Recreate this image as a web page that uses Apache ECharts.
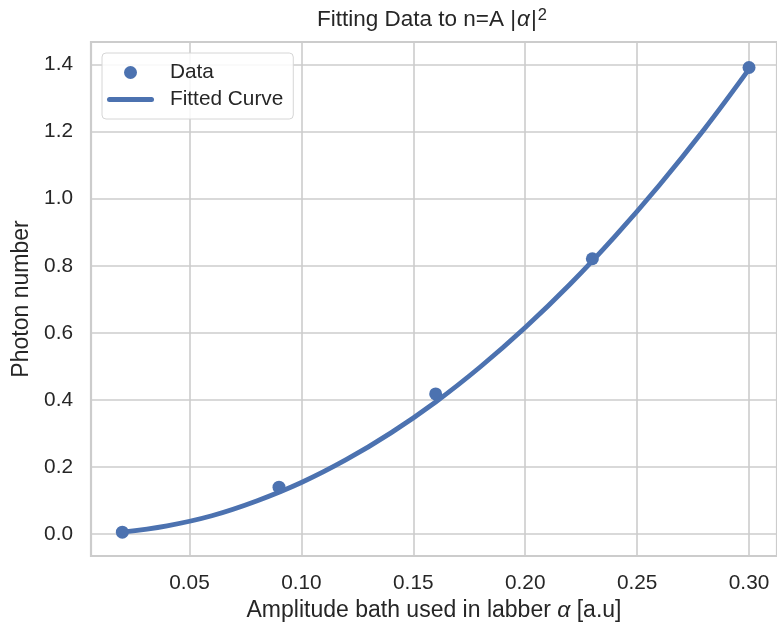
<!DOCTYPE html>
<html>
<head>
<meta charset="utf-8">
<script src="https://cdn.jsdelivr.net/npm/echarts@6/dist/echarts.min.js"></script>
<style>
  html, body { margin: 0; padding: 0; background: #ffffff; }
  #chart { width: 777px; height: 630px; }
</style>
</head>
<body>
<div id="chart"></div>
<script>
// Measured photon numbers at each drive amplitude
var dataAlpha = [0.02, 0.09, 0.16, 0.23, 0.30];
var dataPhotons = [0.006, 0.140, 0.418, 0.821, 1.391];

// Fitted curve n = A|alpha|^2, sampled along the amplitude range
var fitAlpha = [0.02, 0.04, 0.06, 0.08, 0.10, 0.12, 0.14, 0.16, 0.18, 0.20, 0.22, 0.24, 0.26, 0.28, 0.30];
var fitPhotons = [0.006, 0.025, 0.055, 0.099, 0.154, 0.222, 0.302, 0.394, 0.499, 0.616, 0.745, 0.887, 1.041, 1.207, 1.386];

var seriesNames = ['Data', 'Fitted Curve'];
var blue = '#4c72b0';
var ink = '#262626';
var font = '"Liberation Sans", Arial, sans-serif';

function pairs(xs, ys) {
  return xs.map(function (x, i) { return [x, ys[i]]; });
}

var chart = echarts.init(document.getElementById('chart'), null, { renderer: 'canvas' });

chart.setOption({
  backgroundColor: '#ffffff',
  animation: false,
  textStyle: { fontFamily: font, color: ink },
  title: {
    text: '{a|Fitting Data to n=A |}{i|α}{a||}{s|2}',
    left: 317,
    top: 7,
    padding: 0,
    textStyle: {
      fontWeight: 'normal',
      rich: {
        a: { fontFamily: font, fontSize: 22.5, fontWeight: 'normal', color: ink, lineHeight: 26 },
        i: { fontFamily: font, fontSize: 22.5, fontWeight: 'normal', fontStyle: 'italic', color: ink, lineHeight: 26, padding: [0, 1, 0, 1] },
        s: { fontFamily: font, fontSize: 16.5, fontWeight: 'normal', color: ink, verticalAlign: 'top', lineHeight: 26, padding: [0, 0, 0, 1] }
      }
    }
  },
  legend: {
    left: 102,
    top: 53,
    orient: 'vertical',
    padding: [9, 10, 9, 5],
    itemGap: 6,
    itemWidth: 47,
    itemHeight: 13,
    borderColor: '#d6d6d6',
    borderWidth: 1,
    borderRadius: 4,
    backgroundColor: 'rgba(255,255,255,0.85)',
    textStyle: { fontFamily: font, fontSize: 20.8, color: ink, padding: [0, 0, 0, 11] },
    data: [
      { name: seriesNames[0], icon: 'circle' },
      { name: seriesNames[1], icon: 'path://M2.5,0H44.5A2.5,2.5,0,0,1,44.5,5H2.5A2.5,2.5,0,0,1,2.5,0Z' }
    ]
  },
  grid: {
    left: 91,
    right: 0,
    top: 42,
    bottom: 74,
    show: true,
    borderColor: '#cccccc',
    borderWidth: 2.2,
    backgroundColor: '#ffffff'
  },
  xAxis: {
    type: 'value',
    min: 0.006,
    max: 0.3125,
    splitNumber: 5,
    name: 'Amplitude bath used in labber {i|α} [a.u]',
    nameLocation: 'middle',
    nameGap: 41,
    nameTextStyle: {
      fontFamily: font, fontSize: 23, color: ink,
      rich: { i: { fontFamily: font, fontSize: 23, fontStyle: 'italic', color: ink } }
    },
    axisLine: { show: false },
    axisTick: { show: false },
    axisLabel: {
      showMinLabel: false,
      showMaxLabel: false,
      margin: 17,
      fontFamily: font,
      fontSize: 20.8,
      color: ink,
      formatter: function (v) { return v.toFixed(2); }
    },
    splitLine: { show: true, lineStyle: { color: '#cccccc', width: 1.6 } }
  },
  yAxis: {
    type: 'value',
    min: -0.065,
    max: 1.467,
    splitNumber: 7,
    name: 'Photon number',
    nameLocation: 'middle',
    nameGap: 56,
    nameTextStyle: { fontFamily: font, fontSize: 23, color: ink },
    axisLine: { show: false },
    axisTick: { show: false },
    axisLabel: {
      showMinLabel: false,
      showMaxLabel: false,
      margin: 18,
      fontFamily: font,
      fontSize: 20.8,
      color: ink,
      formatter: function (v) { return v.toFixed(1); }
    },
    splitLine: { show: true, lineStyle: { color: '#cccccc', width: 1.6 } }
  },
  series: [
    {
      name: seriesNames[0],
      type: 'scatter',
      data: pairs(dataAlpha, dataPhotons),
      symbol: 'circle',
      symbolSize: 13,
      color: blue,
      itemStyle: { color: blue, opacity: 1 },
      z: 3
    },
    {
      name: seriesNames[1],
      type: 'line',
      data: pairs(fitAlpha, fitPhotons),
      smooth: 0.4,
      showSymbol: false,
      color: blue,
      itemStyle: { color: blue },
      lineStyle: { color: blue, width: 4.8, cap: 'round' },
      z: 4
    }
  ]
});
</script>
</body>
</html>
